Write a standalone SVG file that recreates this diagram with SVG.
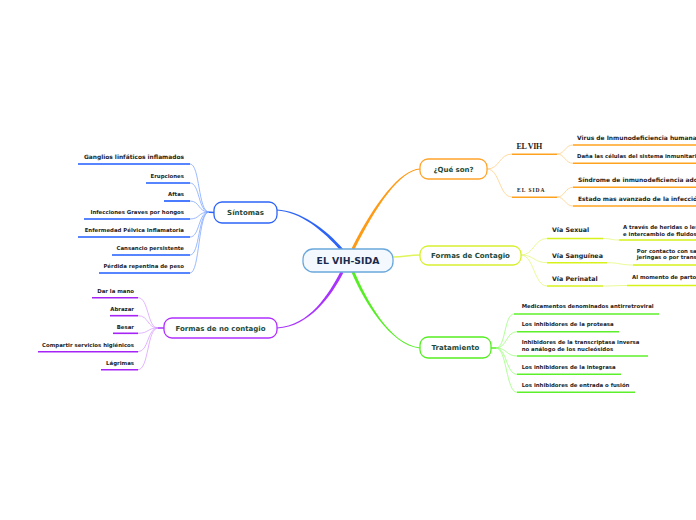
<svg xmlns="http://www.w3.org/2000/svg" width="696" height="520" viewBox="0 0 696 520">
<style>
.t{font-family:"DejaVu Sans",Verdana,sans-serif;font-weight:bold;fill:#1e1e1e}
.lf{font-size:5.4px}
.sb{font-size:6.3px}
.sq{font-size:5.95px}
.nd rect{fill:#ffffff;stroke-width:1.3}
.nd text{font-family:"DejaVu Sans",Verdana,sans-serif;font-weight:bold;font-size:7px;fill:#1d4a3a;text-anchor:middle}
.r{text-anchor:end}
.fan{fill:none;stroke-width:0.8}
.ul{fill:none;stroke-width:1.6}
.blue .ul{stroke:#1f5cff}
.purp .ul{stroke:#a524f5}
.orng .ul{stroke:#ffa21f}
.yel .ul{stroke:#d6f21a}
.grn .ul{stroke:#5cf02a}
.serif{font-family:"Liberation Serif","Times New Roman",serif;font-weight:bold;fill:#1e1e1e}
</style>
<rect width="696" height="520" fill="#ffffff"/>
<g id="connectors">
  <path d="M343.14,249.03 C326.14,229.03 300.02,210.5 277.02,209.5 L276.98,210.5 C299.98,211.5 323.86,230.97 340.86,250.97 Z" fill="#2d64f5"/>
  <path d="M354.34,249.67 C376.34,205.67 400.03,170.5 420.03,169.5 L419.97,168.5 C399.97,169.5 373.66,204.33 351.66,248.33 Z" fill="#ff9a14"/>
  <path d="M343.33,272.69 C331.33,295.69 310.03,326.5 277.03,328.5 L276.97,327.5 C309.97,325.5 328.67,294.31 340.67,271.31 Z" fill="#a833ff"/>
  <path d="M354.38,271.41 C366.38,299.41 390.05,344.5 420.05,347.5 L419.95,348.5 C389.95,345.5 363.62,300.59 351.62,272.59 Z" fill="#55ee22"/>
  <path d="M393,257 C405,257 408,255 420,255" fill="none" stroke="#e0f55a" stroke-width="1.6"/>
  <g stroke="#82a8ff" class="fan">
    <path d="M206,212 L214,212.5" stroke="#2d64f5" stroke-width="1.5"/>
    <path d="M209,212 C198,212 200,164 190,164"/>
    <path d="M209,212 C198,212 200,183 190,183"/>
    <path d="M209,212 C198,212 200,201 190,201"/>
    <path d="M209,212 C198,212 200,219 190,219"/>
    <path d="M209,212 C198,212 200,237 190,237"/>
    <path d="M209,212 C198,212 200,255 190,255"/>
    <path d="M209,212 C198,212 200,273 190,273"/>
  </g>
  <g stroke="#d9a2ff" class="fan">
    <path d="M156,328 L164,328" stroke="#a833ff" stroke-width="1.5"/>
    <path d="M158,328 C147,328 149,297.7 138,297.7"/>
    <path d="M158,328 C147,328 149,315.7 138,315.7"/>
    <path d="M158,328 C147,328 149,333.3 138,333.3"/>
    <path d="M158,328 C147,328 149,351.7 138,351.7"/>
    <path d="M158,328 C147,328 149,369.7 138,369.7"/>
  </g>
  <g stroke="#ffcf85" class="fan">
    <path d="M487,169 C500,169 499,154 512,154"/>
    <path d="M487,169 C500,169 499,197 512,197"/>
    <path d="M557,154 C565,154 565,145 573,145"/>
    <path d="M557,154 C565,154 565,163.3 573,163.3"/>
    <path d="M557,197 C565,197 565,187.3 573,187.3"/>
    <path d="M557,197 C565,197 565,206 573,206"/>
  </g>
  <g stroke="#e6f87a" class="fan">
    <path d="M521,255 C534,255 534,238.5 547,238.5"/>
    <path d="M521,255 C534,255 534,262.7 547,262.7"/>
    <path d="M521,255 C534,255 534,286 547,286"/>
    <path d="M603,238.5 C611,238.5 611,240 619,240"/>
    <path d="M607,262.7 C620,262.7 620,265 633,265"/>
    <path d="M603,286 C615,286 615,285.5 627,285.5"/>
  </g>
  <g stroke="#9cff7c" class="fan">
    <path d="M491,348 L498,348" stroke="#55ee22" stroke-width="1.5"/>
    <path d="M496,348 C506,348 504,314 514,314"/>
    <path d="M496,348 C507,348 506,331.7 517,331.7"/>
    <path d="M496,348 C507,348 506,356 517,356"/>
    <path d="M496,348 C507,348 506,374.3 517,374.3"/>
    <path d="M496,348 C507,348 506,392.3 517,392.3"/>
  </g>
</g>
<g id="central" class="nd">
  <rect x="303" y="249" width="90" height="23" rx="10" stroke="#6aa8dc" stroke-width="1.6" style="fill:#f4f9ff"/>
  <text x="348" y="264.2" style="font-size:9.3px;fill:#1b2b4b">EL VIH-SIDA</text>
</g>
<g id="sintomas" class="nd">
  <rect x="214" y="202" width="63" height="21" rx="8" stroke="#2d64f5"/>
  <text x="245.5" y="215">Síntomas</text>
</g>
<g id="que-son" class="nd">
  <rect x="420" y="159" width="67" height="20" rx="8" stroke="#ffa42c"/>
  <text x="453.5" y="171.6">¿Qué son?</text>
</g>
<g id="formas-contagio" class="nd">
  <rect x="420" y="246" width="101" height="19" rx="8" stroke="#d8f030"/>
  <text x="470.5" y="258">Formas de Contagio</text>
</g>
<g id="tratamiento" class="nd">
  <rect x="420" y="337" width="71" height="21" rx="8" stroke="#55ee22"/>
  <text x="455.5" y="350">Tratamiento</text>
</g>
<g id="no-contagio" class="nd">
  <rect x="164" y="318" width="113" height="20" rx="8" stroke="#b030ff"/>
  <text x="220.5" y="330.6">Formas de no contagio</text>
</g>
<g class="blue">
  <g id="s1"><path class="ul" d="M78,164 H190"/><text class="t r" style="font-size:5.9px" x="184" y="158.8">Ganglios linfáticos inflamados</text></g>
  <g id="s2"><path class="ul" d="M146,183 H190"/><text class="t lf r" x="184" y="177.5">Erupciones</text></g>
  <g id="s3"><path class="ul" d="M164,201 H190"/><text class="t lf r" x="184" y="195.5">Aftas</text></g>
  <g id="s4"><path class="ul" d="M84,219 H190"/><text class="t lf r" x="184" y="213.5">Infecciones Graves por hongos</text></g>
  <g id="s5"><path class="ul" d="M78,237 H190"/><text class="t lf r" x="184" y="231.5">Enfermedad Pélvica Inflamatoria</text></g>
  <g id="s6"><path class="ul" d="M112,255 H190"/><text class="t lf r" x="184" y="249.5">Cansancio persistente</text></g>
  <g id="s7"><path class="ul" d="M99,273 H190"/><text class="t lf r" x="184" y="267.5">Pérdida repentina de peso</text></g>
</g>
<g class="purp">
  <g id="n1"><path class="ul" d="M92,297.7 H138"/><text class="t lf r" x="134" y="292.8">Dar la mano</text></g>
  <g id="n2"><path class="ul" d="M110,315.7 H138"/><text class="t lf r" x="134" y="310.8">Abrazar</text></g>
  <g id="n3"><path class="ul" d="M113,333.3 H138"/><text class="t lf r" x="134" y="328.6">Besar</text></g>
  <g id="n4"><path class="ul" d="M38,351.7 H138"/><text class="t lf r" x="134" y="346.9">Compartir servicios higiénicos</text></g>
  <g id="n5"><path class="ul" d="M101,369.7 H138"/><text class="t lf r" x="134" y="364.9">Lágrimas</text></g>
</g>
<g class="orng">
  <g id="q-vih"><path class="ul" d="M512,154.3 H557"/><text class="serif" x="516.5" y="149" style="font-size:8px" letter-spacing="-0.3">EL VIH</text></g>
  <g id="q-sida"><path class="ul" d="M512,197.3 H557"/><text class="serif" x="517" y="191.6" style="font-size:5.5px" letter-spacing="1">EL SIDA</text></g>
  <g id="q1"><path class="ul" d="M573,145 H696"/><text class="t sq" x="577" y="140">Virus de Inmunodeficiencia humana</text></g>
  <g id="q2"><path class="ul" d="M573,163.3 H696"/><text class="t lf" x="577" y="158.3">Daña las células del sistema inmunitario</text></g>
  <g id="q3"><path class="ul" d="M573,187.3 H696"/><text class="t sq" x="578" y="182.3">Síndrome de inmunodeficiencia adquirida</text></g>
  <g id="q4"><path class="ul" d="M573,206 H696"/><text class="t sq" x="578" y="201">Estado mas avanzado de la infección por VIH</text></g>
</g>
<g class="yel">
  <g id="c1"><path class="ul" d="M547,238.5 H603"/><text class="t sb" x="552" y="232.3">Vía Sexual</text></g>
  <g id="c2"><path class="ul" d="M547,262.7 H607"/><text class="t sb" x="552" y="257.7">Vía Sanguínea</text></g>
  <g id="c3"><path class="ul" d="M547,286 H603"/><text class="t sb" x="552" y="280.7">Vía Perinatal</text></g>
  <g id="c1a"><path class="ul" d="M619,240 H696"/><text class="t lf" x="623" y="229.3">A través de heridas o lesiones</text><text class="t lf" x="623" y="235.5">e intercambio de fluidos</text></g>
  <g id="c2a"><path class="ul" d="M633,265 H696"/><text class="t lf" x="636.7" y="252.8">Por contacto con sangre,</text><text class="t lf" x="636.7" y="259.3">jeringas o por transfusiones</text></g>
  <g id="c3a"><path class="ul" d="M627,285.5 H696"/><text class="t lf" x="632" y="279.3">Al momento de parto</text></g>
</g>
<g class="grn">
  <g id="t1"><path class="ul" d="M514,314 H659"/><text class="t lf" x="521.7" y="308.3">Medicamentos denominados antirretroviral</text></g>
  <g id="t2"><path class="ul" d="M517,331.7 H619"/><text class="t lf" x="521.7" y="326">Los inhibidores de la proteasa</text></g>
  <g id="t3"><path class="ul" d="M517,356 H648"/><text class="t lf" x="521.7" y="344">Inhibidores de la transcriptasa inversa</text><text class="t lf" x="521.7" y="350.7">no análogo de los nucleósidos</text></g>
  <g id="t4"><path class="ul" d="M517,374.3 H621"/><text class="t lf" x="521.7" y="368.7">Los inhibidores de la integrasa</text></g>
  <g id="t5"><path class="ul" d="M517,392.3 H635"/><text class="t lf" x="521.7" y="386.7">Los inhibidores de entrada o fusión</text></g>
</g>
</svg>
